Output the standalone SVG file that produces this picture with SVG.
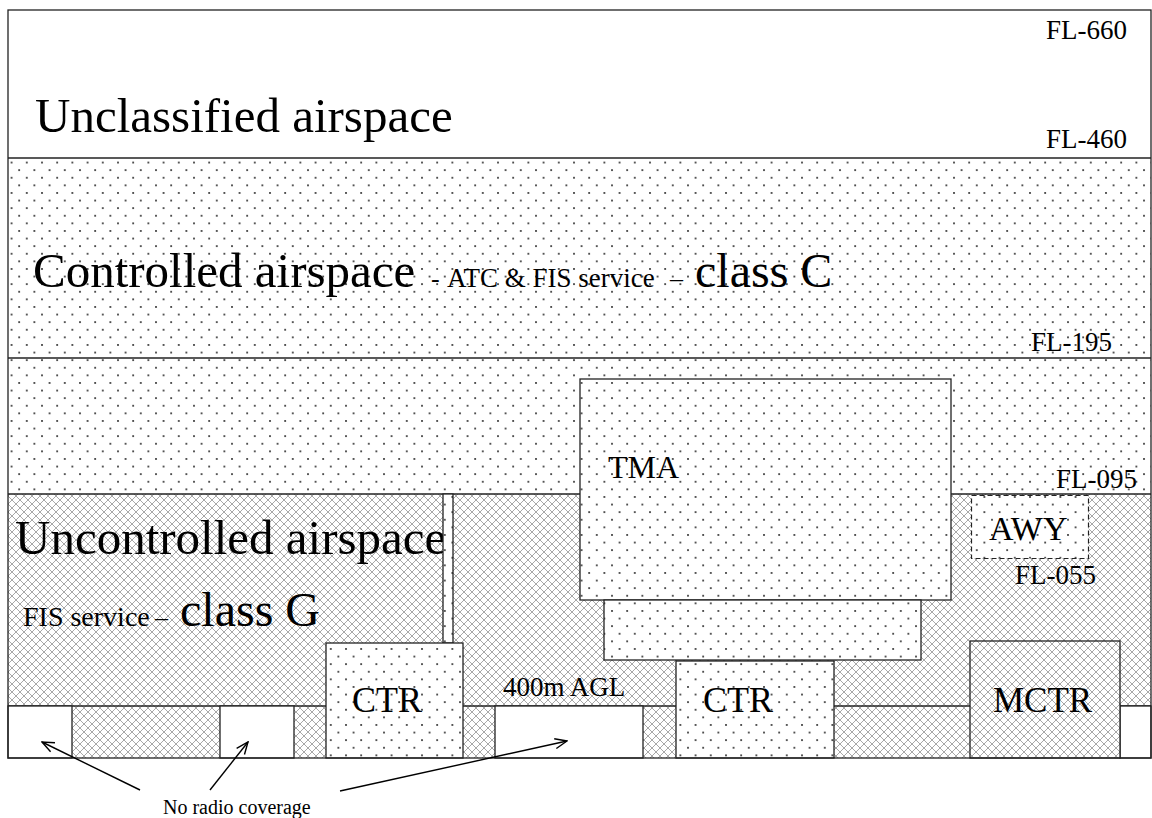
<svg xmlns="http://www.w3.org/2000/svg" width="1152" height="818" viewBox="0 0 1152 818">
<defs>
<pattern id="dots" patternUnits="userSpaceOnUse" width="15.2" height="15.2" x="3" y="2">
<rect x="0" y="0" width="15.2" height="15.2" fill="#fff"/>
<circle cx="1" cy="1" r="1" fill="#222"/>
<circle cx="8.6" cy="8.6" r="1" fill="#222"/>
</pattern>
<pattern id="hatch" patternUnits="userSpaceOnUse" width="8" height="8">
<rect x="0" y="0" width="8" height="8" fill="#fff"/>
<path d="M-1,-1 L9,9 M9,-1 L-1,9" stroke="#a8a8a8" stroke-width="1"/>
</pattern>
<marker id="arr" markerUnits="userSpaceOnUse" markerWidth="14" markerHeight="12" viewBox="0 0 14 12" refX="13" refY="6" orient="auto">
<path d="M1,1 L13,6 L1,11" fill="none" stroke="#000" stroke-width="1.4"/>
</marker>
</defs>
<style>
.ln{stroke:#222;stroke-width:1.3;fill:none}
.box{stroke:#222;stroke-width:1.3}
.t{font-family:"Liberation Serif","Times New Roman",serif;fill:#000}
.conn{stroke:#000;stroke-width:1.4;fill:none}
</style>
<rect x="0" y="0" width="1152" height="818" fill="#fff"/>

<g id="unclassified">
<rect x="8" y="10" width="1143" height="148" fill="#fff"/>
<text class="t" x="35" y="132" font-size="49">Unclassified airspace</text>
<text class="t" x="1127" y="39" font-size="27" text-anchor="end">FL-660</text>
<text class="t" x="1127" y="148" font-size="27" text-anchor="end">FL-460</text>
</g>

<g id="controlled">
<rect x="8" y="158" width="1143" height="336" fill="url(#dots)"/>
<line class="ln" x1="8" y1="358" x2="1151" y2="358"/>
<text class="t" y="287"><tspan x="33" font-size="49">Controlled airspace</tspan><tspan x="431" font-size="26">-</tspan><tspan x="447" font-size="27">ATC &amp; FIS service</tspan><tspan x="670" font-size="26">–</tspan><tspan x="695" font-size="48">class C</tspan></text>
<text class="t" x="1112" y="351" font-size="27" text-anchor="end">FL-195</text>
<text class="t" x="1137" y="488" font-size="27" text-anchor="end">FL-095</text>
</g>

<g id="uncontrolled">
<rect x="8" y="494" width="1143" height="264" fill="url(#hatch)"/>
<line class="ln" x1="8" y1="494" x2="1151" y2="494"/>
<line class="ln" x1="8" y1="706" x2="1151" y2="706"/>
<text class="t" x="15" y="554" font-size="49">Uncontrolled airspace</text>
<text class="t" y="626"><tspan x="23" font-size="28">FIS service</tspan><tspan x="155" font-size="26">–</tspan><tspan x="180" font-size="48">class G</tspan></text>
<text class="t" x="1096" y="584" font-size="27" text-anchor="end">FL-055</text>
<text class="t" x="503" y="696" font-size="27">400m AGL</text>
</g>

<g id="no-coverage-cells">
<rect class="box" x="8" y="706" width="64" height="52" fill="#fff"/>
<rect class="box" x="220" y="706" width="74" height="52" fill="#fff"/>
<rect class="box" x="495" y="706" width="148" height="52" fill="#fff"/>
<rect class="box" x="1120" y="706" width="31" height="52" fill="#fff"/>
</g>

<g id="strip">
<rect class="box" x="443" y="494" width="10" height="149" fill="url(#dots)"/>
</g>

<g id="tma">
<rect class="box" x="580" y="379" width="371" height="221" fill="url(#dots)"/>
<rect class="box" x="604" y="600" width="317" height="60" fill="url(#dots)"/>
<text class="t" x="608" y="478" font-size="32">TMA</text>
</g>

<g id="awy">
<rect x="971.5" y="495.5" width="117" height="63" fill="url(#dots)" stroke="#222" stroke-width="1.2" stroke-dasharray="5,3"/>
<text class="t" x="989" y="540" font-size="34">AWY</text>
</g>

<g id="ctr1">
<rect class="box" x="326" y="643" width="137" height="115" fill="url(#dots)"/>
<text class="t" x="352" y="712" font-size="36">CTR</text>
</g>

<g id="ctr2">
<rect class="box" x="676" y="661" width="158" height="97" fill="url(#dots)"/>
<text class="t" x="703" y="712" font-size="36">CTR</text>
</g>

<g id="mctr">
<rect class="box" x="970" y="641" width="150" height="117" fill="url(#hatch)"/>
<text class="t" x="993" y="712" font-size="35">MCTR</text>
</g>

<g id="frame">
<rect class="ln" x="8" y="10" width="1143" height="748"/>
<line class="ln" x1="8" y1="158" x2="1151" y2="158"/>
</g>

<g id="connectors">
<line class="conn" x1="140" y1="790" x2="42" y2="742" marker-end="url(#arr)"/>
<line class="conn" x1="210" y1="790" x2="248" y2="742" marker-end="url(#arr)"/>
<line class="conn" x1="340" y1="791" x2="567" y2="741" marker-end="url(#arr)"/>
</g>

<g id="label-no-radio">
<text class="t" x="163" y="814" font-size="20">No radio coverage</text>
</g>
</svg>
